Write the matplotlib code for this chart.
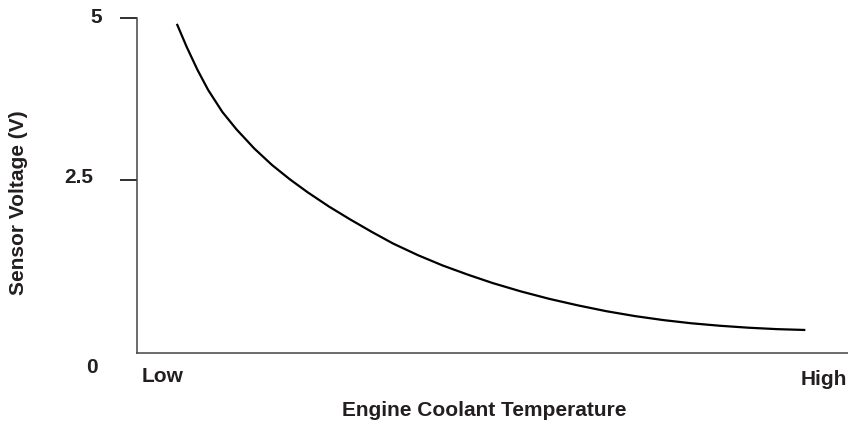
import matplotlib.pyplot as plt

# temperature (0 = low, 100 = high) vs sensor voltage
temp = [5.6, 7.0, 8.5, 10, 12, 14, 16.5, 19, 21.5, 24, 27, 30, 33, 36, 39.5,
        43, 46.5, 50, 54, 58, 62, 66, 70, 74, 78, 82, 86, 90, 94]
volts = [4.91, 4.55, 4.20, 3.89, 3.55, 3.28, 2.985, 2.73, 2.51, 2.31, 2.09, 1.89,
         1.70, 1.52, 1.34, 1.18, 1.04, 0.91, 0.78, 0.665, 0.565, 0.475, 0.40,
         0.338, 0.288, 0.25, 0.22, 0.198, 0.185]

ytick_vals = [2.5, 5]

plt.rcParams['font.family'] = ['Liberation Sans', 'DejaVu Sans']
txt = '#231f20'

fig = plt.figure(figsize=(8.48, 4.24), dpi=100)
ax = fig.add_axes([0.1616, 0.1675, 0.8384, 0.79])

ax.plot(temp, volts, color='black', linewidth=1.6, solid_capstyle='butt',
        solid_joinstyle='round')

ax.set_xlim(0, 100)
ax.set_ylim(-0.17, 5)

for s in ['top', 'right']:
    ax.spines[s].set_visible(False)
for s in ['left', 'bottom']:
    ax.spines[s].set_color('#444444')
    ax.spines[s].set_linewidth(1.1)

ax.set_xticks([])
ax.set_yticks(ytick_vals)
ax.set_yticklabels([])
ax.tick_params(axis='y', length=12.5, width=1.3, color='#231f20', direction='out')

fs = 15
kw = dict(transform=ax.transAxes, clip_on=False, color=txt, fontsize=fs, fontweight='bold')
ax.text(-0.057, 1.0015, '5', ha='center', va='center', **kw)
ax.text(-0.0816, 0.525, '2.5', ha='center', va='center', **kw)
ax.text(-0.063, -0.06, '0', ha='center', va='baseline', **kw)
ax.text(0.036, -0.087, 'Low', ha='center', va='baseline', **kw)
ax.text(0.9655, -0.0955, 'High', ha='center', va='baseline', **kw)
ax.text(0.488, -0.188, 'Engine Coolant Temperature', ha='center', va='baseline', **kw)
ax.text(-0.1667, 0.449, 'Sensor Voltage (V)', ha='center', va='center', rotation=90, **kw)

fig.savefig('out.png', dpi=100)
